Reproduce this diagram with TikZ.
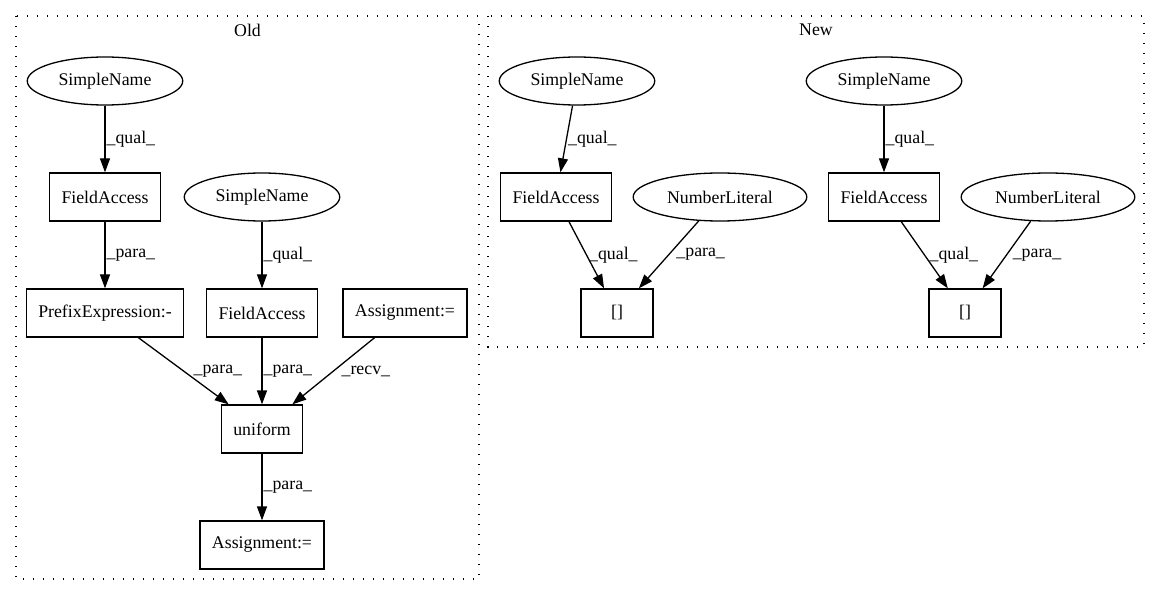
\documentclass[tikz,border=0pt]{standalone}
\usepackage{fontspec}
\setmainfont{Liberation Serif}
\usetikzlibrary{arrows.meta,shapes.geometric}

\begin{document}
\begin{tikzpicture}[x=1pt,y=-1pt,
  font=\fontsize{17.8}{20}\selectfont,
  box/.style={draw,line width=1.3pt,minimum width=72pt,minimum height=48pt,inner xsep=12pt},
  oval/.style={draw,ellipse,line width=1.3pt,minimum height=48pt,inner xsep=8.5pt},
  arr/.style={-{Triangle[length=14pt,width=10pt]},line width=1.3pt},
  lbl/.style={anchor=west,inner sep=0pt},
  cluster/.style={line width=1.3pt,dash pattern=on 1.3pt off 8.7pt}]
\useasboundingbox (0,0) rectangle (1160,596);
% clusters
\draw [cluster] (16,16) rectangle (479,579);
\draw [cluster] (488,16) rectangle (1144,347);
\node (oldtitle) at (247.5,30) {Old};
\node (newtitle) at (816,30) {New};
% old
\node [oval] (sn1) at (105,81) {SimpleName};
\node [box] (fa1) at (105,197) {FieldAccess};
\node [oval] (sn2) at (262,197) {SimpleName};
\node [box] (pre) at (105,313) {PrefixExpression:-};
\node [box] (fa2) at (262,313) {FieldAccess};
\node [box] (asg1) at (405,313) {Assignment:=};
\node [box] (unif) at (262,429) {uniform};
\node [box] (asg2) at (262,545) {Assignment:=};
\draw [arr] (sn1) -- (fa1) node[lbl,midway,xshift=1pt]{\_qual\_};
\draw [arr] (fa1) -- (pre) node[lbl,midway,xshift=1pt]{\_para\_};
\draw [arr] (sn2) -- (fa2) node[lbl,midway,xshift=1pt]{\_qual\_};
\draw [arr] (pre) -- (unif) node[lbl,midway,xshift=9.5pt]{\_para\_};
\draw [arr] (fa2) -- (unif) node[lbl,midway,xshift=1pt]{\_para\_};
\draw [arr] (asg1) -- (unif) node[lbl,midway,xshift=7.5pt]{\_recv\_};
\draw [arr] (unif) -- (asg2) node[lbl,midway,xshift=1pt]{\_para\_};
% new
\node [oval] (sn3) at (577,81) {SimpleName};
\node [box] (fa3) at (556,197) {FieldAccess};
\node [oval] (nl1) at (720,197) {NumberLiteral};
\node [box] (br1) at (617,313) {[]};
\node [oval] (sn4) at (884,81) {SimpleName};
\node [box] (fa4) at (884,197) {FieldAccess};
\node [oval] (nl2) at (1048,197) {NumberLiteral};
\node [box] (br2) at (965,313) {[]};
\draw [arr] (sn3) -- (fa3) node[lbl,midway,xshift=1pt]{\_qual\_};
\draw [arr] (fa3) -- (br1) node[lbl,midway,xshift=2pt]{\_qual\_};
\draw [arr] (nl1) -- (br1) node[lbl,midway,xshift=7pt]{\_para\_};
\draw [arr] (sn4) -- (fa4) node[lbl,midway,xshift=1pt]{\_qual\_};
\draw [arr] (fa4) -- (br2) node[lbl,midway,xshift=4.5pt]{\_qual\_};
\draw [arr] (nl2) -- (br2) node[lbl,midway,xshift=5.5pt]{\_para\_};
\end{tikzpicture}
\end{document}
